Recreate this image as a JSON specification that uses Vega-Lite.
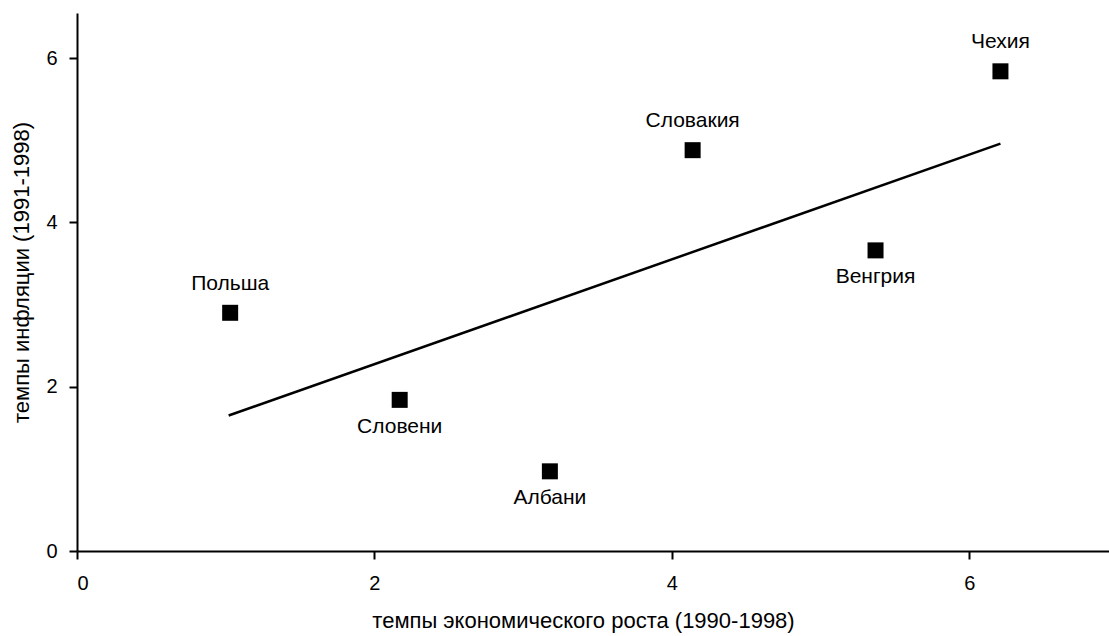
{
  "$schema": "https://vega.github.io/schema/vega-lite/v6.json",
  "autosize": "none",
  "width": 1032,
  "height": 538,
  "padding": {"left": 77, "top": 13, "right": 0, "bottom": 85},
  "background": "white",
  "config": {
    "view": {"stroke": null},
    "font": "Liberation Sans",
    "axis": {
      "grid": false,
      "domainColor": "black",
      "domainWidth": 2,
      "tickColor": "black",
      "tickWidth": 2,
      "tickSize": 8,
      "labelColor": "black",
      "labelFontSize": 20,
      "labelFont": "Liberation Sans",
      "titleColor": "black",
      "titleFontSize": 22,
      "titleFontWeight": "normal",
      "titleFont": "Liberation Sans"
    }
  },
  "datasets": {
    "points": [
      {"country": "Польша", "growth": 1.03, "inflation": 2.9, "pos": "above"},
      {"country": "Словени", "growth": 2.17, "inflation": 1.84, "pos": "below"},
      {"country": "Албани", "growth": 3.18, "inflation": 0.97, "pos": "below"},
      {"country": "Словакия", "growth": 4.14, "inflation": 4.88, "pos": "above"},
      {"country": "Венгрия", "growth": 5.37, "inflation": 3.66, "pos": "below"},
      {"country": "Чехия", "growth": 6.21, "inflation": 5.84, "pos": "above"}
    ],
    "trend": [
      {"growth": 1.02, "inflation": 1.65},
      {"growth": 6.21, "inflation": 4.96}
    ]
  },
  "layer": [
    {
      "data": {"name": "trend"},
      "mark": {"type": "line", "color": "black", "strokeWidth": 2.5},
      "encoding": {
        "x": {
          "field": "growth", "type": "quantitative",
          "scale": {"domain": [0, 6.94], "nice": false, "zero": false},
          "axis": {"values": [0, 2, 4, 6], "format": "d", "title": "темпы экономического роста (1990-1998)", "labelPadding": 14, "titlePadding": 17, "titleX": 506}
        },
        "y": {
          "field": "inflation", "type": "quantitative",
          "scale": {"domain": [0, 6.55], "nice": false, "zero": false},
          "axis": {"values": [0, 2, 4, 6], "format": "d", "title": "темпы инфляции (1991-1998)", "labelPadding": 12, "titlePadding": 12, "titleY": 259}
        }
      }
    },
    {
      "data": {"name": "points"},
      "mark": {"type": "point", "shape": "square", "filled": true, "color": "black", "size": 256, "opacity": 1},
      "encoding": {
        "x": {"field": "growth", "type": "quantitative"},
        "y": {"field": "inflation", "type": "quantitative"}
      }
    },
    {
      "data": {"name": "points"},
      "transform": [{"filter": "datum.pos === 'above'"}],
      "mark": {"type": "text", "dy": -29, "fontSize": 21, "color": "black", "baseline": "middle", "align": "center"},
      "encoding": {
        "x": {"field": "growth", "type": "quantitative"},
        "y": {"field": "inflation", "type": "quantitative"},
        "text": {"field": "country"}
      }
    },
    {
      "data": {"name": "points"},
      "transform": [{"filter": "datum.pos === 'below'"}],
      "mark": {"type": "text", "dy": 27, "fontSize": 21, "color": "black", "baseline": "middle", "align": "center"},
      "encoding": {
        "x": {"field": "growth", "type": "quantitative"},
        "y": {"field": "inflation", "type": "quantitative"},
        "text": {"field": "country"}
      }
    }
  ]
}
